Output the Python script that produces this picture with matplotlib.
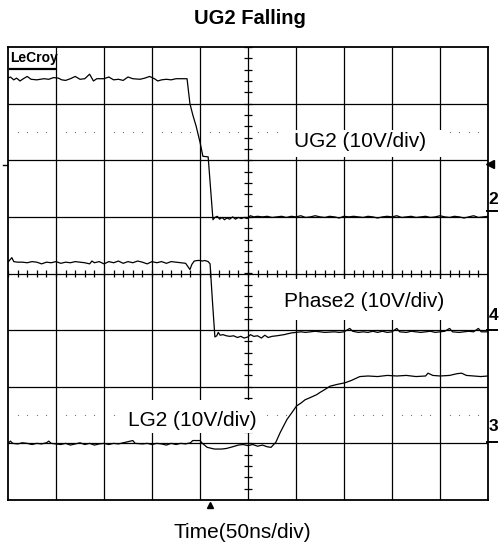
import matplotlib
matplotlib.use("Agg")
import matplotlib.pyplot as plt
from matplotlib.patches import Rectangle
import numpy as np

# ------------------------------------------------------------
# 示波器截图数据 (单位: 格, x 0..10, y -4..4)
# ------------------------------------------------------------
ug2_points = [
    (0.00, 3.45), (0.05, 3.47), (0.12, 3.42), (0.18, 3.45), (0.25, 3.40),
    (0.32, 3.44), (0.40, 3.48), (0.48, 3.43), (0.60, 3.42), (0.75, 3.44),
    (0.85, 3.43), (0.95, 3.46), (1.05, 3.45), (1.12, 3.42), (1.20, 3.41),
    (1.30, 3.44), (1.40, 3.48), (1.50, 3.43), (1.60, 3.44), (1.70, 3.52),
    (1.78, 3.40), (1.85, 3.44), (2.00, 3.44), (2.10, 3.47), (2.20, 3.42),
    (2.30, 3.43), (2.40, 3.41), (2.50, 3.47), (2.60, 3.44), (2.75, 3.43),
    (2.85, 3.45), (2.95, 3.48), (3.05, 3.44), (3.12, 3.40), (3.20, 3.42),
    (3.30, 3.43), (3.40, 3.42), (3.50, 3.44), (3.73, 3.44), (3.79, 3.00),
    (3.85, 2.80), (3.92, 2.60), (4.00, 2.32), (4.06, 2.07), (4.17, 2.06),
    (4.27, 0.95), (4.31, 0.99), (4.36, 1.01), (4.41, 0.96), (4.46, 0.99),
    (4.51, 0.95), (4.56, 0.98), (4.62, 0.96), (4.68, 1.00), (4.74, 0.96),
    (4.80, 0.99), (4.86, 0.97), (4.92, 0.99), (4.98, 0.97), (5.05, 1.02),
    (5.12, 1.00), (5.20, 1.01), (5.30, 1.00), (5.40, 1.01), (5.50, 0.99),
    (5.60, 1.00), (5.70, 1.01), (5.80, 0.99), (5.90, 1.01), (6.00, 1.00),
    (6.10, 1.02), (6.20, 0.99), (6.30, 1.00), (6.40, 1.02), (6.50, 1.00),
    (6.60, 0.99), (6.70, 1.01), (6.80, 1.00), (6.90, 0.98), (7.00, 1.01),
    (7.10, 1.00), (7.20, 1.01), (7.30, 1.00), (7.40, 0.99), (7.50, 1.01),
    (7.60, 1.00), (7.70, 0.98), (7.80, 1.00), (7.90, 1.01), (8.00, 1.00),
    (8.10, 1.02), (8.20, 0.99), (8.30, 1.00), (8.40, 1.01), (8.50, 0.99),
    (8.60, 1.00), (8.70, 1.01), (8.80, 0.99), (8.90, 1.00), (9.00, 1.02),
    (9.10, 1.00), (9.20, 0.99), (9.30, 1.01), (9.40, 1.00), (9.50, 0.98),
    (9.60, 1.00), (9.70, 1.02), (9.80, 0.99), (9.90, 1.00), (10.00, 1.01),
]

phase2_points = [
    (0.00, 0.20), (0.04, 0.24), (0.08, 0.28), (0.12, 0.21), (0.20, 0.20),
    (0.30, 0.20), (0.40, 0.19), (0.50, 0.21), (0.60, 0.20), (0.70, 0.17),
    (0.80, 0.20), (0.90, 0.19), (1.00, 0.21), (1.10, 0.18), (1.20, 0.20),
    (1.30, 0.19), (1.40, 0.21), (1.50, 0.20), (1.60, 0.19), (1.70, 0.17),
    (1.75, 0.22), (1.80, 0.19), (1.90, 0.21), (2.00, 0.17), (2.10, 0.21),
    (2.20, 0.19), (2.30, 0.22), (2.40, 0.18), (2.50, 0.21), (2.60, 0.19),
    (2.70, 0.22), (2.80, 0.20), (2.90, 0.17), (3.00, 0.21), (3.10, 0.19),
    (3.20, 0.21), (3.30, 0.18), (3.40, 0.21), (3.50, 0.20), (3.60, 0.19),
    (3.70, 0.18), (3.75, 0.12), (3.79, 0.07), (3.83, 0.16), (3.88, 0.22),
    (3.95, 0.23), (4.00, 0.23), (4.05, 0.22), (4.10, 0.23), (4.17, 0.21),
    (4.21, 0.17), (4.26, -0.50), (4.31, -1.12), (4.35, -1.10), (4.38, -1.04),
    (4.42, -1.09), (4.48, -1.08), (4.55, -1.10), (4.62, -1.11), (4.70, -1.10),
    (4.78, -1.13), (4.85, -1.11), (4.92, -1.14), (5.00, -1.12), (5.05, -1.08),
    (5.12, -1.11), (5.20, -1.10), (5.28, -1.14), (5.35, -1.09), (5.42, -1.13),
    (5.50, -1.11), (5.60, -1.10), (5.75, -1.08), (5.90, -1.05), (6.00, -1.04),
    (6.10, -1.03), (6.20, -1.04), (6.30, -1.03), (6.40, -1.02), (6.50, -1.03),
    (6.60, -1.04), (6.80, -1.03), (6.90, -1.04), (7.00, -1.03), (7.12, -0.97),
    (7.18, -1.02), (7.30, -1.04), (7.40, -1.03), (7.50, -1.04), (7.60, -1.02),
    (7.70, -1.04), (7.80, -1.02), (7.90, -1.04), (8.00, -1.03), (8.10, -0.97),
    (8.16, -1.03), (8.30, -1.04), (8.40, -1.02), (8.50, -1.03), (8.60, -1.04),
    (8.70, -1.03), (8.80, -1.02), (8.90, -1.04), (9.00, -1.03), (9.10, -1.02),
    (9.20, -0.97), (9.26, -1.03), (9.40, -1.04), (9.50, -1.03), (9.60, -1.02),
    (9.70, -1.03), (9.80, -0.97), (9.86, -1.03), (10.00, -1.03),
]

lg2_points = [
    (0.00, -3.00), (0.05, -2.96), (0.10, -3.00), (0.20, -3.01), (0.30, -2.99),
    (0.40, -3.00), (0.50, -3.02), (0.60, -3.00), (0.70, -3.01), (0.80, -2.99),
    (0.85, -2.96), (0.90, -3.00), (1.00, -3.01), (1.10, -3.02), (1.20, -3.00),
    (1.30, -3.03), (1.40, -3.01), (1.50, -2.99), (1.60, -3.02), (1.70, -3.00),
    (1.80, -3.03), (1.90, -3.01), (2.00, -3.00), (2.10, -3.02), (2.20, -3.00),
    (2.30, -3.01), (2.40, -2.99), (2.60, -2.95), (2.65, -3.00), (2.80, -3.01),
    (2.90, -3.00), (3.00, -3.02), (3.10, -3.00), (3.20, -3.01), (3.30, -3.03),
    (3.40, -3.00), (3.50, -3.02), (3.60, -3.00), (3.70, -3.01), (3.80, -2.99),
    (3.85, -2.95), (4.00, -2.95), (4.05, -3.00), (4.15, -3.07), (4.30, -3.10),
    (4.45, -3.10), (4.55, -3.09), (4.68, -3.06), (4.80, -3.03), (4.90, -3.02),
    (5.00, -3.04), (5.10, -3.02), (5.20, -3.05), (5.30, -3.03), (5.40, -3.06),
    (5.48, -3.07), (5.58, -2.98), (5.67, -2.81), (5.81, -2.58), (5.92, -2.45),
    (6.01, -2.34), (6.10, -2.29), (6.19, -2.23), (6.30, -2.19), (6.43, -2.14),
    (6.50, -2.10), (6.60, -2.05), (6.71, -1.99), (6.85, -1.96), (7.02, -1.93),
    (7.15, -1.89), (7.33, -1.82), (7.50, -1.81), (7.70, -1.82), (7.90, -1.80),
    (8.10, -1.81), (8.30, -1.80), (8.50, -1.82), (8.70, -1.81), (8.75, -1.76),
    (8.85, -1.80), (9.00, -1.81), (9.20, -1.80), (9.35, -1.77), (9.45, -1.76),
    (9.55, -1.80), (9.70, -1.81), (9.85, -1.82), (10.00, -1.81),
]

# 通道标签 (文字, x中心, y中心, 白底框 x0, x1, y0, y1)
labels = [
    ("UG2 (10V/div)", 7.33, 2.33, 5.72, 9.05, 2.05, 2.54),
    ("Phase2 (10V/div)", 7.41, -0.50, 5.56, 9.21, -0.82, -0.10),
    ("LG2 (10V/div)", 3.84, -2.60, 2.33, 5.35, -2.81, -2.23),
]
# 右侧通道号 (文字, y位置, 地线标记y)
channel_marks = [("2", 1.30, 1.10), ("4", -0.74, -0.99), ("3", -2.70, -2.97)]

TXT = "Liberation Sans"

fig = plt.figure(figsize=(4.99, 5.51), dpi=100)
ax = fig.add_axes([8 / 499, 51 / 551, 480 / 499, 453 / 551])
ax.set_xlim(0, 10)
ax.set_ylim(-4, 4)
ax.set_xticks([])
ax.set_yticks([])
for sp in ax.spines.values():
    sp.set_linewidth(1.3)

# 网格
ax.vlines(np.arange(1, 10), -4, 4, colors="black", lw=0.9, zorder=1)
ax.hlines(np.arange(-3, 4), 0, 10, colors="black", lw=0.9, zorder=1)

# 中心轴刻度
minor = np.arange(0, 10.01, 0.2)
ax.vlines(minor, -0.06, 0.06, colors="black", lw=0.9, zorder=1)
minor_y = np.arange(-4, 4.01, 0.2)
ax.hlines(minor_y, 4.91, 5.09, colors="black", lw=0.9, zorder=1)

# 虚点行
dots = np.array([v for v in minor if abs(v - round(v)) > 1e-6])
for yy in (2.5, -2.5):
    ax.plot(dots, np.full_like(dots, yy), ls="none", marker="s", ms=0.8,
            mew=0, color="#777777", zorder=1)

# 标签白底
for txt, tx, ty, x0, x1, y0, y1 in labels:
    ax.add_patch(Rectangle((x0, y0), x1 - x0, y1 - y0, facecolor="white",
                           edgecolor="none", zorder=2))
    ax.text(tx, ty, txt, ha="center", va="center", fontsize=15,
            family=TXT, zorder=4)

# 波形
for pts in (ug2_points, phase2_points, lg2_points):
    t, v = zip(*pts)
    ax.plot(t, v, color="black", lw=0.9, zorder=3)

# LeCroy 标志
ax.text(0.04, 3.93, "LeCroy", ha="left", va="top", fontsize=10,
        family=TXT, fontweight="bold", zorder=4)
ax.plot([0.04, 0.97], [3.62, 3.62], color="black", lw=1.6, zorder=4)

# 右侧通道号和地线标记
for ch, cy, gy in channel_marks:
    ax.text(10.01, cy, ch, ha="left", va="center", fontsize=12.5,
            family=TXT, fontweight="bold", clip_on=False)
    ax.plot([9.98, 10.19], [gy, gy], color="black", lw=1.4, clip_on=False)

# 触发电平箭头、左侧标记、触发位置标记
ax.plot([10.05], [1.93], marker="<", ms=6, color="black", clip_on=False)
ax.plot([-0.11, -0.02], [1.91, 1.91], color="black", lw=1.0, clip_on=False)
ax.plot([4.21], [-4.08], marker="^", ms=5, color="black", clip_on=False)

fig.text(250 / 499, 1 - 18 / 551, "UG2 Falling", ha="center", va="center",
         fontsize=14.5, fontweight="bold", family=TXT)
fig.text(242.5 / 499, 1 - 532 / 551, "Time(50ns/div)", ha="center", va="center",
         fontsize=15, family=TXT)

fig.savefig("out.png", dpi=100)
